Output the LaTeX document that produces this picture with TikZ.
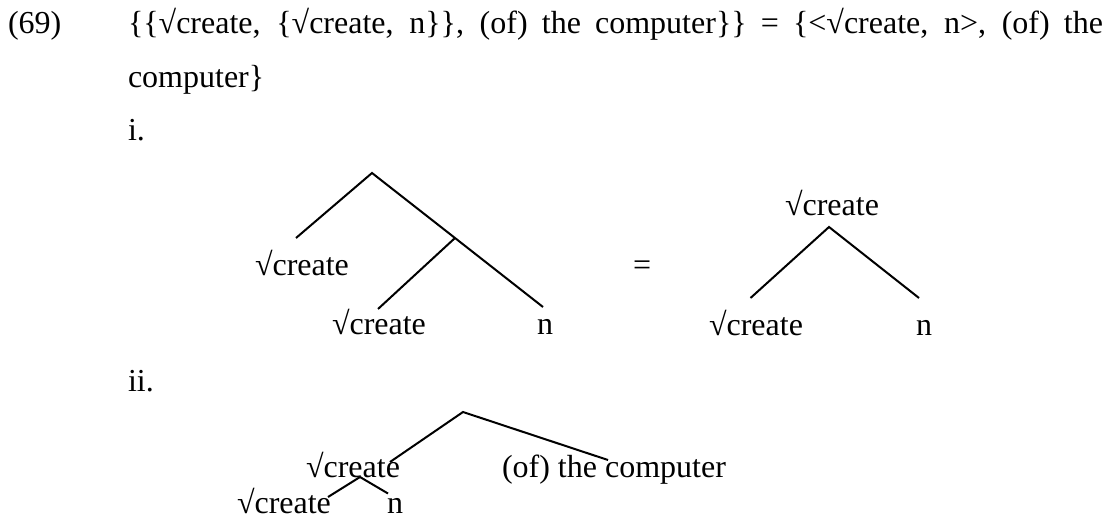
\documentclass[tikz,border=0pt]{standalone}
\usepackage{fontspec}
\setmainfont{Liberation Serif}
\begin{document}
\begin{tikzpicture}[x=0.375pt,y=-0.375pt,
  txt/.style={inner sep=0pt,outer sep=0pt,anchor=base west,font=\fontsize{12pt}{14pt}\selectfont},
  branch/.style={line width=0.75pt}]
\useasboundingbox (0,0) rectangle (1112,517);
% heading
\node[txt] (num) at (8,34) {(69)};
\node[txt] (l1) at (128,34) {\makebox[365.6pt][s]{\{\{√create, \{√create, n\}\}, (of) the computer\}\} = \{<√create, n>, (of) the}};
\node[txt] (l2) at (128,88) {computer\}};
\node[txt] (ci) at (128,141) {i.};
% tree i (left)
\coordinate (r1) at (372,173);
\coordinate (j1) at (455,238);
\coordinate (e1) at (296,238);
\coordinate (e2) at (378,309);
\coordinate (e3) at (543,307);
\node[txt] (a1) at (255,275) {√create};
\node[txt] (a2) at (332,334) {√create};
\node[txt] (a3) at (537,334) {n};
\draw[branch] (e1) -- (r1) -- (j1) -- (e3);
\draw[branch] (j1) -- (e2);
\node[txt] (eq) at (633,275) {=};
% tree i (right)
\coordinate (r2) at (829,227);
\coordinate (f1) at (750.5,298);
\coordinate (f2) at (919,298);
\node[txt] (b0) at (785,215) {√create};
\node[txt] (b1) at (709,335) {√create};
\node[txt] (b2) at (916,335) {n};
\draw[branch] (f1) -- (r2) -- (f2);
% ii
\node[txt] (cii) at (128,391) {ii.};
\coordinate (r3) at (463,412);
\coordinate (g1) at (390,462);
\coordinate (g2) at (608,460);
\coordinate (s0) at (360,477);
\coordinate (s1) at (328,497);
\coordinate (s2) at (388,493.5);
\node[txt] (c1) at (306,477) {√create};
\node[txt] (c2) at (502,477) {(of) the computer};
\node[txt] (c3) at (237,513) {√create};
\node[txt] (c4) at (387,513) {n};
\draw[branch] (g1) -- (r3) -- (g2);
\draw[branch] (s1) -- (s0) -- (s2);
\end{tikzpicture}
\end{document}
